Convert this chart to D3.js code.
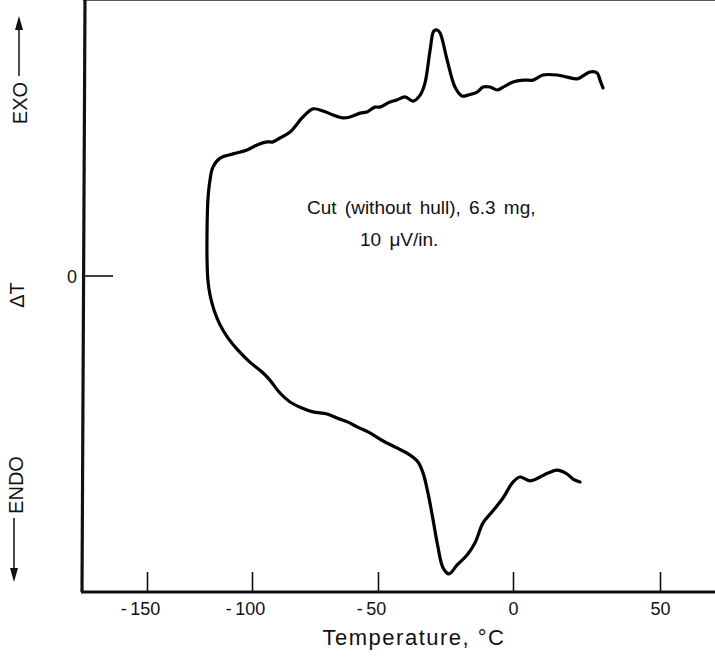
<!DOCTYPE html>
<html>
<head>
<meta charset="utf-8">
<script src="https://d3js.org/d3.v7.min.js"></script>
<style>
    body { margin: 0; background: #fff; }
    text { font-family: "Liberation Sans", Arial, sans-serif; fill: #111; }
</style>
</head>
<body>
<svg width="715" height="658"></svg>
<script>

// tick labels of the (non-linear) temperature axis, and where they sit
var tempTicks = [-150, -100, -50, 0, 50];
var tickPx = [147, 252, 378, 513, 660];

// DTA trace: temperature (°C) and deflection (arbitrary units, 0 = baseline mark)
var temp = [30.6, 29.6, 28.6, 26.2, 23.8, 21.8, 18.4, 15.0, 10.2, 6.8, 3.4, 0, -3.0, -5.9, -8.5, -11.1, -13.3, -16.7, -18.9, -21.5,
            -24.4, -27.0, -28.1, -29.3, -30.7, -32.6, -34.4, -37.0, -40.0, -43.0, -45.6, -49.3, -51.2, -54.4, -57.1, -61.1, -63.9, -67.9, -71.8, -75.8,
            -79.8, -84.9, -88.9, -91.7, -94.0, -98.0, -102.4, -109.0, -115.2, -118.6, -120.0, -121.0,
            -121.4, -121.4, -121.0, -120.0, -118.1, -115.2, -111.4, -106.7, -101.0, -96.0, -92.9, -88.9, -84.9, -80.2, -75.8, -70.2, -66.3, -61.9,
            -58.3, -53.2, -48.1, -43.0, -38.1, -35.2, -33.3, -31.5, -29.6, -27.8, -25.9, -23.7, -20.7, -17.0, -14.1, -11.1, -7.8, -3.7, 0,
            2.4, 5.8, 9.2, 11.9, 15.0, 18.4, 20.4, 22.8];
var deltaT = [6.27, 6.53, 6.77, 6.80, 6.67, 6.57, 6.63, 6.70, 6.70, 6.53, 6.53, 6.47, 6.33, 6.20, 6.30, 6.30, 6.13, 6.03, 6.00, 6.30,
              7.20, 8.10, 8.20, 8.17, 7.53, 6.43, 6.03, 5.83, 5.97, 5.87, 5.80, 5.63, 5.63, 5.47, 5.43, 5.30, 5.27, 5.37, 5.50, 5.57,
              5.30, 4.80, 4.60, 4.47, 4.47, 4.37, 4.20, 4.07, 3.93, 3.63, 3.20, 2.53,
              1.53, 0.53, -0.13, -0.63, -1.13, -1.63, -2.07, -2.47, -2.87, -3.20, -3.47, -3.90, -4.20, -4.40, -4.53, -4.60, -4.73, -4.87,
              -5.03, -5.23, -5.50, -5.73, -5.97, -6.20, -6.57, -7.23, -8.13, -9.03, -9.73, -9.93, -9.63, -9.30, -8.90, -8.23, -7.87, -7.40, -6.87,
              -6.70, -6.83, -6.70, -6.57, -6.47, -6.60, -6.77, -6.87];

var svg = d3.select("svg");

var x = d3.scaleLinear().domain(tempTicks).range(tickPx);
var y = d3.scaleLinear().domain([-10.5, 9]).range([591, 6]);

var left = 83, right = 715, bottom = y(-10.5) + 1, top = 8;

// frame
svg.append("line").attr("x1", left).attr("x2", right).attr("y1", top).attr("y2", top + 4)
    .attr("stroke", "#222").attr("stroke-width", 1.5);

// bottom axis, ticks pointing up
var xAxis = svg.append("g")
    .attr("transform", "translate(0," + bottom + ")")
    .call(d3.axisBottom(x).tickValues(tempTicks).tickSizeInner(-20).tickSizeOuter(0)
        .tickFormat(function(d) { return d < 0 ? "-\u2009" + Math.abs(d) : d; }));
xAxis.select(".domain").remove();
xAxis.selectAll(".tick line").attr("stroke", "#111").attr("stroke-width", 1.6);
xAxis.selectAll(".tick text")
    .attr("y", 23).attr("dy", 0)
    .attr("dx", function(d) { return d < 0 ? -7 : 0; })
    .style("font-size", "18px").style("fill", "#111");

svg.append("line").attr("x1", left - 2).attr("x2", right).attr("y1", bottom).attr("y2", bottom)
    .attr("stroke", "#111").attr("stroke-width", 3.2);
svg.append("line").attr("x1", left + 2).attr("x2", left - 1).attr("y1", top - 2).attr("y2", bottom)
    .attr("stroke", "#111").attr("stroke-width", 3.2);

// zero mark on the ΔT axis
svg.append("line").attr("x1", left).attr("x2", left + 30).attr("y1", y(0)).attr("y2", y(0))
    .attr("stroke", "#111").attr("stroke-width", 1.6);
svg.append("text").attr("x", 72).attr("y", y(0) + 7).attr("text-anchor", "middle")
    .style("font-size", "18px").text("0");

// trace
var pts = temp.map(function(t, i) { return [t, deltaT[i]]; });
var line = d3.line()
    .x(function(d) { return x(d[0]); })
    .y(function(d) { return y(d[1]); })
    .curve(d3.curveCatmullRom.alpha(0.5));

svg.append("path").datum(pts)
    .attr("d", line)
    .attr("fill", "none")
    .attr("stroke", "#000")
    .attr("stroke-width", 3.2)
    .attr("stroke-linejoin", "round")
    .attr("stroke-linecap", "round");

// axis titles
svg.append("text").attr("x", 414).attr("y", 645).attr("text-anchor", "middle")
    .style("font-size", "22px").style("letter-spacing", "1.5px")
    .text("Temperature,  \u00B0C");

function vlabel(txt, cx, cy) {
    svg.append("text")
        .attr("transform", "translate(" + cx + "," + cy + ") rotate(-90)")
        .attr("text-anchor", "middle").attr("dy", "0.35em")
        .style("font-size", "20px")
        .text(txt);
}
vlabel("EXO", 20, 103);
vlabel("\u0394T", 17, 295);
vlabel("ENDO", 16, 485);

// arrows
svg.append("line").attr("x1", 19).attr("x2", 19).attr("y1", 76).attr("y2", 26).attr("stroke", "#111").attr("stroke-width", 1.5);
svg.append("path").attr("d", "M19,16 L15,30 L23,30 Z").attr("fill", "#111");
svg.append("line").attr("x1", 14).attr("x2", 14).attr("y1", 518).attr("y2", 572).attr("stroke", "#111").attr("stroke-width", 1.5);
svg.append("path").attr("d", "M14,582 L10,568 L18,568 Z").attr("fill", "#111");

// annotation
svg.append("text").attr("x", 307).attr("y", 214)
    .style("font-size", "19px").style("word-spacing", "3px")
    .text("Cut (without hull), 6.3 mg,");
svg.append("text").attr("x", 360).attr("y", 246)
    .style("font-size", "19px").style("word-spacing", "3px")
    .text("10 \u03BCV/in.");

</script>
</body>
</html>
